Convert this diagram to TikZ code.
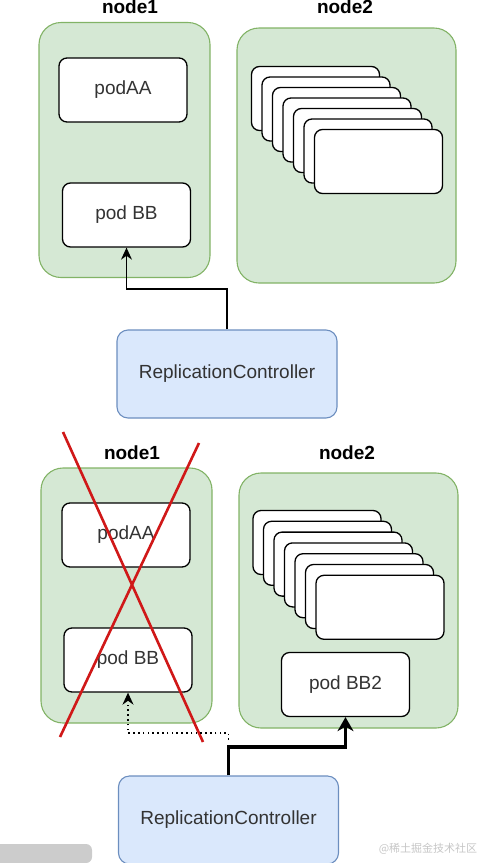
\documentclass[tikz,border=0pt]{standalone}
\usepackage{fontspec}
\setmainfont{Liberation Sans}
\newfontfamily\cjk{Noto Sans CJK SC}
\usetikzlibrary{arrows.meta}
\definecolor{hostfill}{HTML}{D5E8D4}
\definecolor{hostline}{HTML}{82B366}
\definecolor{ctrlfill}{HTML}{DAE8FC}
\definecolor{ctrlline}{HTML}{6C8EBF}
\definecolor{crossred}{HTML}{D01818}
\definecolor{ink}{HTML}{333333}
\begin{document}
\begin{tikzpicture}[x=1pt,y=-1pt,
  host/.style={draw=hostline, fill=hostfill, line width=1.1pt, rounded corners=22pt, minimum width=171pt, minimum height=255pt},
  wide/.style={host, minimum width=219pt},
  pod/.style={draw, fill=white, line width=1.3pt, rounded corners=8pt, minimum width=128pt, minimum height=64pt, text=ink, font=\fontsize{19}{23}\selectfont},
  ctrl/.style={draw=ctrlline, fill=ctrlfill, line width=1.1pt, rounded corners=11pt, minimum width=220pt, minimum height=88pt, text=ink, font=\fontsize{19}{23}\selectfont},
  title/.style={font=\fontsize{19}{23}\selectfont\bfseries, inner sep=0pt},
  link/.style={draw, line width=1.3pt, -{Stealth[length=12pt,width=11pt]}}]
\useasboundingbox (0,0) rectangle (483,863);
\node[title] (tid0) at (130,7){node1};
\node[title] (tid1) at (345,7){node2};
\node[host] (nid0) at (124.5,150){};
\node[wide] (nid1) at (346.5,155.5){};
\node[pod] (pid0) at (123,90){podAA};
\node[pod] (pid1) at (126.5,215){pod BB};
\node[pod] (sid0) at (315.5,98.5){};
\node[pod] (sid1) at (326,109){};
\node[pod] (sid2) at (336.5,119.5){};
\node[pod] (sid3) at (347,130){};
\node[pod] (sid4) at (357.5,140.5){};
\node[pod] (sid5) at (368,151){};
\node[pod] (sid6) at (378.5,161.5){};
\node[ctrl] (rid0) at (227,374){ReplicationController};
\coordinate (kid0) at (0,289);
\draw[link](rid0.north) -- (rid0.north |- kid0) -| (pid1.south);

\node[title] (tid2) at (132,453){node1};
\node[title] (tid3) at (347,453){node2};
\node[host] (nid2) at (126.5,595.5){};
\node[wide] (nid3) at (348.5,600.5){};
\node[pod] (pid2) at (126,535){podAA};
\node[pod] (pid3) at (128,660){pod BB};
\node[pod] (sid7) at (317,542.5){};
\node[pod] (sid8) at (327.5,553.3){};
\node[pod] (sid9) at (338,564.1){};
\node[pod] (sid10) at (348.5,574.9){};
\node[pod] (sid11) at (359,585.7){};
\node[pod] (sid12) at (369.5,596.5){};
\node[pod] (sid13) at (380,607.3){};
\node[pod] (pid4) at (345.5,684.5){pod BB2};
\node[ctrl] (rid1) at (228.5,820){ReplicationController};
\coordinate (xid0) at (63,432);
\coordinate (xid1) at (203,742);
\coordinate (xid2) at (199,443);
\coordinate (xid3) at (60,737);
\draw[crossred, line width=2.6pt](xid0) -- (xid1);
\draw[crossred, line width=2.6pt](xid2) -- (xid3);
\coordinate (kid1) at (0,747);
\coordinate (kid2) at (0,733);
\coordinate (did0) at (228.5,740);
\draw[link, line width=3.2pt, -{Stealth[length=14pt,width=16pt]}](rid1.north) -- (rid1.north |- kid1) -| (pid4.south);
\draw[link, dash pattern=on 1.6pt off 3.2pt](did0) -- (did0 |- kid2) -| (pid3.south);

\fill[gray!40] (0,863) -- (0,844) {[rounded corners=6pt] -- (92,844) -- (92,863)} -- cycle;
\node[text=gray!45, font=\cjk\fontsize{11}{13}\selectfont, inner sep=0pt] (wid0) at (428,849){@稀土掘金技术社区};
\end{tikzpicture}
\end{document}
